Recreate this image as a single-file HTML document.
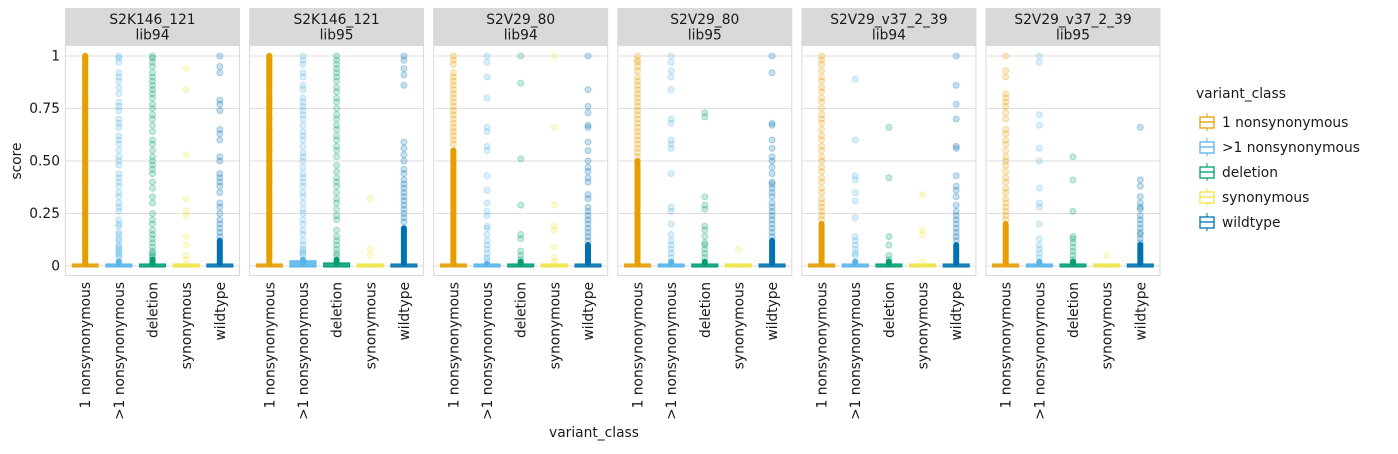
<!DOCTYPE html>
<html><head><meta charset="utf-8"><style>
html,body{margin:0;padding:0;background:#fff;}
svg text{font-family:"DejaVu Sans","Liberation Sans",sans-serif;fill:#1a1a1a;}
</style></head><body>
<svg id="chart" width="1398" height="449" xmlns="http://www.w3.org/2000/svg"></svg>
<script>
const categories = ["1 nonsynonymous", ">1 nonsynonymous", "deletion", "synonymous", "wildtype"];
const colors = ["#E69F00", "#56B4E9", "#009E73", "#F0E442", "#0072B2"];
const facetTitles = ["S2K146_121", "S2K146_121", "S2V29_80", "S2V29_80", "S2V29_v37_2_39", "S2V29_v37_2_39"];
const facetLibs = ["lib94", "lib95", "lib94", "lib95", "lib94", "lib95"];
const yTicks = [0, 0.25, 0.5, 0.75, 1];
const yTickLabels = ["0", "0.25", "0.50", "0.75", "1"];
// top of the dense (solid) outlier band per facet per category
const denseTop = [
  [1.0, 0.02, 0.03, 0.0, 0.12],
  [1.0, 0.03, 0.03, 0.0, 0.18],
  [0.55, 0.01, 0.02, 0.0, 0.1],
  [0.5, 0.02, 0.02, 0.0, 0.12],
  [0.2, 0.02, 0.02, 0.0, 0.1],
  [0.2, 0.02, 0.02, 0.0, 0.1]
];
// box upper values (q3) per facet per category
const boxQ3 = [
  [0.005,0.005,0.005,0.005,0.005],
  [0.005,0.02,0.01,0.005,0.005],
  [0.005,0.005,0.005,0.005,0.005],
  [0.005,0.005,0.005,0.005,0.005],
  [0.005,0.005,0.005,0.005,0.005],
  [0.005,0.005,0.005,0.005,0.005]
];
const outliers = [
  [
    [1,0.98,0.95,0.9,0.85,0.8,0.75,0.7,0.65,0.6,0.55,0.5,0.45,0.4,0.35,0.3,0.25,0.2,0.15,0.1,0.05],
    [1,0.99,0.97,0.92,0.9,0.88,0.85,0.82,0.78,0.76,0.74,0.7,0.68,0.66,0.62,0.6,0.58,0.55,0.52,0.5,0.48,0.44,0.42,0.4,0.38,0.35,0.33,0.3,0.28,0.26,0.22,0.2,0.19,0.16,0.15,0.13,0.12,0.1,0.09,0.08,0.07,0.06,0.05,0.04],
    [1,0.99,0.97,0.95,0.92,0.9,0.88,0.86,0.84,0.82,0.8,0.77,0.75,0.72,0.7,0.67,0.64,0.6,0.58,0.55,0.52,0.5,0.48,0.46,0.44,0.4,0.37,0.33,0.3,0.25,0.22,0.2,0.17,0.15,0.13,0.11,0.09,0.07,0.06,0.05,0.04],
    [0.94,0.84,0.53,0.32,0.26,0.24,0.14,0.1,0.05,0.03],
    [1,0.95,0.92,0.79,0.77,0.74,0.65,0.63,0.6,0.52,0.5,0.44,0.42,0.4,0.38,0.35,0.3,0.28,0.25,0.22,0.2,0.18,0.16,0.14]
  ],
  [
    [1,0.97,0.94,0.9,0.85,0.8,0.75,0.7,0.65,0.6,0.55,0.5,0.45,0.4,0.35,0.3,0.25,0.2,0.15,0.1,0.05],
    [1,0.98,0.96,0.92,0.9,0.86,0.84,0.8,0.78,0.76,0.74,0.72,0.7,0.67,0.64,0.62,0.6,0.57,0.54,0.52,0.5,0.47,0.44,0.42,0.4,0.38,0.35,0.33,0.3,0.27,0.25,0.22,0.2,0.17,0.15,0.12,0.1,0.08,0.07,0.06,0.05],
    [1,0.98,0.96,0.94,0.92,0.9,0.88,0.85,0.83,0.8,0.78,0.75,0.72,0.7,0.67,0.65,0.62,0.6,0.57,0.55,0.52,0.48,0.45,0.42,0.4,0.38,0.35,0.32,0.3,0.27,0.24,0.22,0.17,0.14,0.12,0.1,0.08,0.06,0.05],
    [0.32,0.08,0.05],
    [1,0.98,0.94,0.91,0.86,0.59,0.56,0.53,0.5,0.46,0.44,0.41,0.39,0.37,0.35,0.33,0.31,0.29,0.27,0.25,0.23,0.21]
  ],
  [
    [1,0.98,0.96,0.92,0.9,0.88,0.86,0.84,0.82,0.8,0.78,0.76,0.74,0.72,0.7,0.68,0.66,0.64,0.62,0.6,0.58],
    [1,0.97,0.9,0.8,0.66,0.64,0.57,0.55,0.43,0.36,0.3,0.26,0.24,0.19,0.18,0.15,0.12,0.1,0.08,0.06,0.04,0.03],
    [1,0.87,0.51,0.29,0.15,0.13,0.07,0.05,0.03],
    [1,0.66,0.29,0.19,0.17,0.09,0.04,0.02],
    [1,0.84,0.76,0.73,0.67,0.66,0.59,0.55,0.5,0.47,0.45,0.42,0.4,0.34,0.32,0.28,0.26,0.24,0.22,0.2,0.18,0.16,0.14,0.12]
  ],
  [
    [1,0.98,0.97,0.95,0.93,0.9,0.88,0.86,0.84,0.82,0.8,0.78,0.76,0.74,0.72,0.7,0.68,0.66,0.64,0.62,0.6,0.58,0.56,0.54,0.52],
    [1,0.97,0.93,0.9,0.84,0.7,0.68,0.6,0.58,0.56,0.44,0.28,0.26,0.2,0.15,0.12,0.1,0.08,0.06,0.04],
    [0.73,0.71,0.33,0.29,0.27,0.19,0.17,0.14,0.11,0.1,0.08,0.06,0.04],
    [0.08],
    [1,0.92,0.68,0.67,0.6,0.56,0.52,0.5,0.47,0.44,0.4,0.39,0.37,0.35,0.33,0.3,0.28,0.26,0.24,0.22,0.2,0.18,0.16,0.14]
  ],
  [
    [1,0.98,0.96,0.93,0.9,0.88,0.85,0.83,0.8,0.78,0.75,0.72,0.7,0.68,0.65,0.62,0.6,0.57,0.55,0.52,0.5,0.47,0.45,0.42,0.4,0.37,0.35,0.32,0.3,0.28,0.26,0.24,0.22],
    [0.89,0.6,0.43,0.41,0.35,0.31,0.23,0.14,0.12,0.1,0.08,0.06,0.05],
    [0.66,0.42,0.14,0.1,0.05,0.03],
    [0.34,0.17,0.15,0.02],
    [1,0.86,0.77,0.7,0.57,0.56,0.43,0.38,0.36,0.33,0.29,0.26,0.24,0.22,0.2,0.18,0.16,0.14,0.12]
  ],
  [
    [1,0.93,0.9,0.8,0.82,0.78,0.76,0.73,0.7,0.65,0.63,0.6,0.58,0.55,0.52,0.5,0.48,0.45,0.42,0.4,0.37,0.35,0.32,0.3,0.28,0.26,0.24,0.22],
    [1,0.97,0.72,0.67,0.56,0.5,0.37,0.3,0.28,0.2,0.13,0.1,0.08,0.06,0.04],
    [0.52,0.41,0.26,0.14,0.13,0.11,0.09,0.07,0.05,0.03],
    [0.05],
    [0.66,0.41,0.38,0.33,0.3,0.28,0.27,0.24,0.22,0.2,0.18,0.16,0.15,0.13,0.11]
  ]
];

const NS = "http://www.w3.org/2000/svg";
const svg = document.getElementById("chart");
function mk(tag, attrs, parent) {
  const e = document.createElementNS(NS, tag);
  for (const k in attrs) e.setAttribute(k, attrs[k]);
  (parent || svg).appendChild(e);
  return e;
}
const FS = 13.8;
const panelW = 175, gap = 9.1, left0 = 65, pTop = 45, pBot = 276;
function yScale(v) { return 266 - v * 210; }
function xScale(p, i) { return left0 + p * (panelW + gap) + panelW * (0.6 + i) / 5.2; }

yTicks.forEach((t, i) => {
  const lab = mk("text", {x: 60, y: yScale(t) + 4.5, "text-anchor": "end", "font-size": FS});
  lab.textContent = yTickLabels[i];
  
  
});
const yt = mk("text", {x: 21, y: 161, "text-anchor": "middle", "font-size": FS, transform: "rotate(-90 21 161)"});
yt.textContent = "score";



for (let p = 0; p < 6; p++) {
  const px = left0 + p * (panelW + gap);
  const g = mk("g", {});
  
  
  const strip = mk("rect", {x: px, y: 8, width: panelW, height: 37, fill: "#d9d9d9"}, g);
  
  
  const t1 = mk("text", {x: px + panelW / 2, y: 24, "text-anchor": "middle", "font-size": FS}, g);
  t1.textContent = facetTitles[p];
  
  
  const t2 = mk("text", {x: px + panelW / 2, y: 39.5, "text-anchor": "middle", "font-size": FS}, g);
  t2.textContent = facetLibs[p];
  
  
  const bg = mk("rect", {x: px + 0.5, y: pTop + 0.5, width: panelW - 1, height: pBot - pTop - 1, fill: "#fff", stroke: "#d9d9d9", "stroke-width": 1}, g);
  
  
  yTicks.forEach(t => {
    const gl = mk("line", {x1: px + 1, x2: px + panelW - 1, y1: yScale(t), y2: yScale(t), stroke: "#dedede", "stroke-width": 1}, g);
    
    
  });
  categories.forEach((c, i) => {
    const cx = xScale(p, i), col = colors[i];
    if (denseTop[p][i] > 0) {
      const d = mk("rect", {x: cx - 3, y: yScale(denseTop[p][i]) - 3, width: 6, height: yScale(0) - yScale(denseTop[p][i]) + 3, rx: 3, fill: col}, g);
      
      
    }
    outliers[p][i].forEach(v => {
      const pt = mk("circle", {cx: cx, cy: yScale(v), r: 3, fill: col, "fill-opacity": 0.22, stroke: col, "stroke-opacity": 0.3, "stroke-width": 1}, g);
      
      
    });
    const q3 = boxQ3[p][i];
    const bh = Math.max(3, yScale(0) - yScale(q3) + 2);
    const bx = mk("rect", {x: cx - 13, y: yScale(0) + 1 - bh, width: 26, height: bh, fill: col, "fill-opacity": 0.85, stroke: col, "stroke-width": 1}, g);
    
    
    const xl = mk("text", {x: cx + 5, y: 282, "text-anchor": "end", "font-size": FS, transform: "rotate(-90 " + (cx + 5) + " 282)"});
    xl.textContent = c;
    
    
  });
}
const xt = mk("text", {x: 594, y: 437, "text-anchor": "middle", "font-size": FS});
xt.textContent = "variant_class";



const lg = mk("g", {});


const lt = mk("text", {x: 1196, y: 98, "font-size": FS}, lg);
lt.textContent = "variant_class";


categories.forEach((c, i) => {
  const y = 122 + i * 25;
  const e = mk("g", {}, lg);
  
  
  mk("line", {x1: 1207, x2: 1207, y1: y - 9, y2: y + 9, stroke: colors[i], "stroke-width": 1}, e);
  mk("rect", {x: 1200, y: y - 5, width: 14, height: 11, fill: "#fff", stroke: colors[i], "stroke-width": 1.3}, e);
  mk("line", {x1: 1200, x2: 1214, y1: y, y2: y, stroke: colors[i], "stroke-width": 1.3}, e);
  const tx = mk("text", {x: 1222, y: y + 5, "font-size": FS}, e);
  tx.textContent = c;
});
</script>
</body></html>
